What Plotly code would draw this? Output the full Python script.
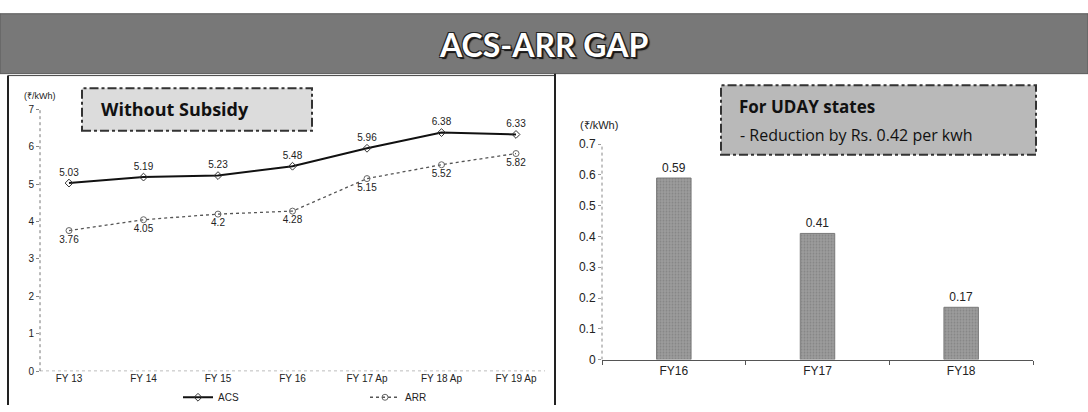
import plotly.graph_objects as go

# ---------------- data ----------------
years = ["FY 13", "FY 14", "FY 15", "FY 16", "FY 17 Ap", "FY 18 Ap", "FY 19 Ap"]
acs = [5.03, 5.19, 5.23, 5.48, 5.96, 6.38, 6.33]
arr = [3.76, 4.05, 4.20, 4.28, 5.15, 5.52, 5.82]
acs_labels = ["5.03", "5.19", "5.23", "5.48", "5.96", "6.38", "6.33"]
arr_labels = ["3.76", "4.05", "4.2", "4.28", "5.15", "5.52", "5.82"]

gap_years = ["FY16", "FY17", "FY18"]
gap_vals = [0.59, 0.41, 0.17]
gap_labels = ["0.59", "0.41", "0.17"]

left_ticks = [0, 1, 2, 3, 4, 5, 6, 7]
right_ticks = [0, 0.1, 0.2, 0.3, 0.4, 0.5, 0.6, 0.7]
right_ticktext = ["0", "0.1", "0.2", "0.3", "0.4", "0.5", "0.6", "0.7"]

W, H = 1088, 412
def px(x):
    return x / W
def py(y):
    return 1 - y / H

FONT = "Liberation Sans, Arial, sans-serif"
NARROW = "Liberation Sans Narrow, Liberation Sans, Arial, sans-serif"

fig = go.Figure()

fig.add_trace(go.Scatter(
    x=years, y=acs, name="ACS", mode="lines+markers+text",
    line=dict(color="#111111", width=2),
    marker=dict(symbol="diamond-open", size=6, color="#333333", line=dict(width=1)),
    text=acs_labels, textposition="top center",
    textfont=dict(family=FONT, size=10, color="#222222"),
    xaxis="x", yaxis="y",
))
fig.add_trace(go.Scatter(
    x=years, y=arr, name="ARR", mode="lines+markers+text",
    line=dict(color="#555555", width=1.3, dash="dot"),
    marker=dict(symbol="circle-open", size=6, color="#666666", line=dict(width=1)),
    text=arr_labels, textposition="bottom center",
    textfont=dict(family=FONT, size=10, color="#222222"),
    xaxis="x", yaxis="y",
))
fig.add_trace(go.Bar(
    x=gap_years, y=gap_vals, showlegend=False,
    marker=dict(color="#9c9c9c", line=dict(color="#7a7a7a", width=1),
                pattern=dict(shape=".", fgcolor="#6e6e6e", size=3, solidity=0.3)),
    width=0.24,
    text=gap_labels, textposition="outside",
    textfont=dict(family=NARROW, size=12, color="#222222"),
    cliponaxis=False,
    xaxis="x2", yaxis="y2",
))

fig.update_layout(
    width=W, height=H, autosize=False,
    margin=dict(l=0, r=0, t=0, b=0),
    paper_bgcolor="white", plot_bgcolor="white",
    font=dict(family=FONT, size=10, color="#222222"),
    xaxis=dict(domain=[px(40), px(545)], type="category",
               showgrid=False, zeroline=False, showline=False, ticks="",
               tickfont=dict(family=FONT, size=10, color="#222222")),
    yaxis=dict(domain=[py(377), py(106)], range=[0, 7], tickvals=left_ticks,
               showgrid=False, zeroline=False, showline=False,
               ticks="outside", ticklen=3, tickcolor="#888888",
               tickfont=dict(family=FONT, size=10, color="#222222")),
    xaxis2=dict(domain=[px(602), px(1033)], type="category",
                showgrid=False, zeroline=False, showline=True,
                linecolor="#555555", linewidth=1,
                ticks="outside", tickson="boundaries", ticklen=4, tickcolor="#555555",
                tickfont=dict(family=NARROW, size=12, color="#222222"),
                anchor="y2"),
    yaxis2=dict(domain=[py(365), py(142)], range=[0, 0.7],
                tickvals=right_ticks, ticktext=right_ticktext,
                showgrid=False, zeroline=False, showline=False,
                ticks="outside", ticklen=3, tickcolor="#999999",
                tickfont=dict(family=NARROW, size=12, color="#222222"),
                anchor="x2"),
    showlegend=True,
    legend=dict(orientation="h", x=px(178), y=py(404), xanchor="left", yanchor="middle",
                entrywidth=142, entrywidthmode="pixels", itemwidth=30,
                font=dict(family=FONT, size=10, color="#222222"),
                bgcolor="rgba(0,0,0,0)", tracegroupgap=0),
)

shapes = []
# title banner
shapes.append(dict(type="rect", xref="paper", yref="paper", x0=0, x1=1, y0=py(69), y1=py(7),
                   fillcolor="#787878", line=dict(color="#5a5a5a", width=1), layer="below"))
# left panel border
shapes.append(dict(type="line", xref="paper", yref="paper", x0=px(8), x1=px(8), y0=0, y1=py(71),
                   line=dict(color="#222222", width=2)))
shapes.append(dict(type="line", xref="paper", yref="paper", x0=px(8), x1=px(555), y0=py(71), y1=py(71),
                   line=dict(color="#444444", width=1)))
shapes.append(dict(type="line", xref="paper", yref="paper", x0=px(555), x1=px(555), y0=0, y1=py(69),
                   line=dict(color="#222222", width=2)))
# left axes dotted lines
shapes.append(dict(type="line", xref="x domain", yref="y", x0=0, x1=0, y0=0, y1=7,
                   line=dict(color="#777777", width=1, dash="dot")))
shapes.append(dict(type="line", xref="x domain", yref="y", x0=0, x1=1, y0=0, y1=0,
                   line=dict(color="#777777", width=1, dash="dot")))
# right y axis dotted
shapes.append(dict(type="line", xref="x2 domain", yref="y2", x0=0, x1=0, y0=0, y1=0.7,
                   line=dict(color="#888888", width=1, dash="dot")))
# Without Subsidy box
shapes.append(dict(type="rect", xref="paper", yref="paper", x0=px(82), x1=px(312), y0=py(128), y1=py(84),
                   fillcolor="#dcdcdc", line=dict(color="#333333", width=2, dash="dashdot")))
# UDAY box
shapes.append(dict(type="rect", xref="paper", yref="paper", x0=px(721), x1=px(1036), y0=py(153), y1=py(81),
                   fillcolor="#b9b9b9", line=dict(color="#333333", width=2, dash="dashdot")))
fig.update_layout(shapes=shapes)

outline = "-1px -1px 0 #222, 1px -1px 0 #222, -1px 1px 0 #222, 1px 1px 0 #222, 2px 2px 1px #111"
annotations = [
    dict(text="<b>ACS-ARR GAP</b>", xref="paper", yref="paper", x=0.5, y=py(39),
         xanchor="center", yanchor="middle", showarrow=False,
         font=dict(family="Lato, Open Sans, sans-serif", size=32, color="white", shadow=outline)),
    dict(text="(₹/kWh)", xref="paper", yref="paper", x=px(22), y=py(92),
         xanchor="left", yanchor="middle", showarrow=False,
         font=dict(family=NARROW, size=9, color="#222222")),
    dict(text="(₹/kWh)", xref="paper", yref="paper", x=px(578), y=py(122),
         xanchor="left", yanchor="middle", showarrow=False,
         font=dict(family=NARROW, size=11, color="#222222")),
    dict(text="<b>Without Subsidy</b>", xref="paper", yref="paper", x=px(99), y=py(106),
         xanchor="left", yanchor="middle", showarrow=False,
         font=dict(family="Open Sans, sans-serif", size=18, color="#111111")),
    dict(text="<b>For UDAY states</b>", xref="paper", yref="paper", x=px(737), y=py(103),
         xanchor="left", yanchor="middle", showarrow=False,
         font=dict(family="Open Sans, sans-serif", size=17, color="#111111")),
    dict(text="- Reduction by Rs. 0.42 per kwh", xref="paper", yref="paper", x=px(738), y=py(133),
         xanchor="left", yanchor="middle", showarrow=False,
         font=dict(family="Open Sans, sans-serif", size=16, color="#111111")),
]
fig.update_layout(annotations=annotations)

fig.write_html("out.html",
               config={"displayModeBar": False, "responsive": False},
               post_script="document.body.style.margin='0';document.body.style.overflow='hidden';")
